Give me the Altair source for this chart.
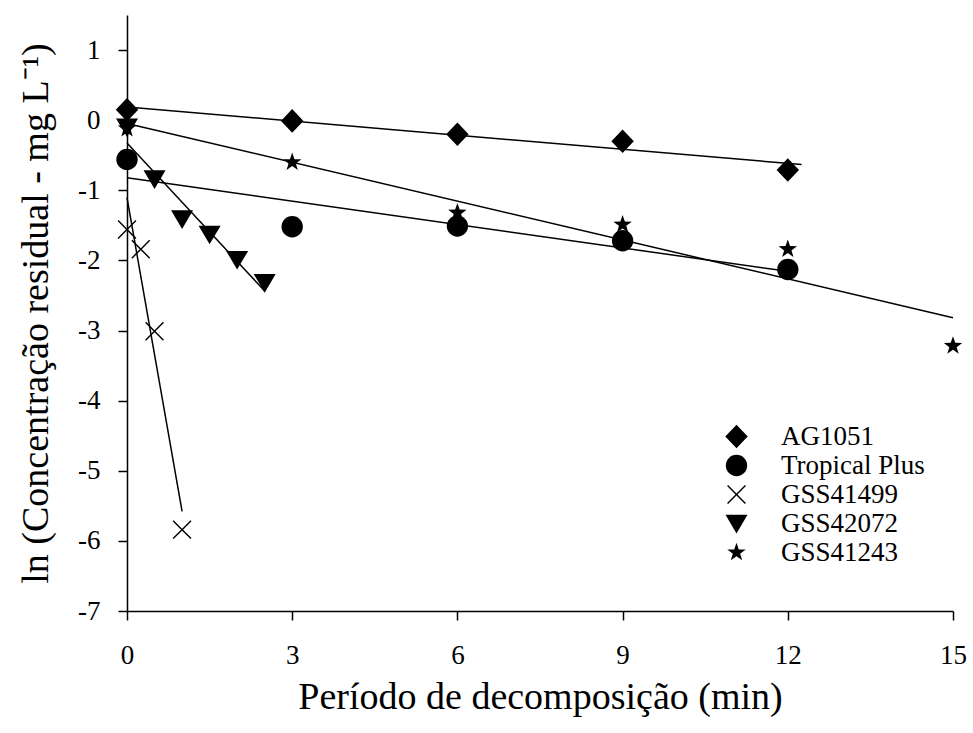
import math
import numpy as np
import pandas as pd
import altair as alt

# ---- data ----
series = ["AG1051", "Tropical Plus", "GSS41499", "GSS42072", "GSS41243"]

t_ag1051 = [0, 3, 6, 9, 12]
v_ag1051 = [0.15, -0.01, -0.20, -0.30, -0.71]

t_tropical = [0, 3, 6, 9, 12]
v_tropical = [-0.56, -1.52, -1.51, -1.72, -2.13]

t_gss41499 = [0, 0.25, 0.5, 1.0]
v_gss41499 = [-1.56, -1.84, -3.01, -5.84]

t_gss42072 = [0, 0.5, 1.0, 1.5, 2.0, 2.5]
v_gss42072 = [-0.10, -0.84, -1.41, -1.63, -1.99, -2.32]

t_gss41243 = [0, 3, 6, 9, 12, 15]
v_gss41243 = [-0.12, -0.60, -1.32, -1.49, -1.84, -3.22]

# extent of each fitted line (x start, x end)
fit_start = [0, 0, 0, 0, 0]
fit_end = [12.25, 12, 1.0, 2.5, 15]

x_ticks = [0, 3, 6, 9, 12, 15]
y_ticks = [-7, -6, -5, -4, -3, -2, -1, 0, 1]

# ---- tables ----
all_t = [t_ag1051, t_tropical, t_gss41499, t_gss42072, t_gss41243]
all_v = [v_ag1051, v_tropical, v_gss41499, v_gss42072, v_gss41243]

rows = []
line_rows = []
for name, ts, vs, xs, xe in zip(series, all_t, all_v, fit_start, fit_end):
    for t, v in zip(ts, vs):
        rows.append({"t": t, "v": v, "serie": name})
    b, a = np.polyfit(ts, vs, 1)
    for x in (xs, xe):
        line_rows.append({"t": x, "v": a + b * x, "serie": name})
pts = pd.DataFrame(rows)
lines = pd.DataFrame(line_rows)

# ---- marker shapes (normalized [-1,1] paths, all filled) ----
def poly(points):
    return "M" + "L".join(f"{x:.3f},{y:.3f}" for x, y in points) + "Z"

def star(R, r):
    p = []
    for k in range(10):
        ang = -math.pi / 2 + k * math.pi / 5
        rad = R if k % 2 == 0 else r
        p.append((rad * math.cos(ang), rad * math.sin(ang)))
    return poly(p)

def xcross(L, w):
    plus = [(w, L), (w, w), (L, w), (L, -w), (w, -w), (w, -L),
            (-w, -L), (-w, -w), (-L, -w), (-L, w), (-w, w), (-w, L)]
    c = s = math.sqrt(0.5)
    return poly([(x * c - y * s, x * s + y * c) for x, y in plus])

cr = 0.97
shapes = [
    "M-1.02,0L0,-1.07L1.02,0L0,1.07Z",
    f"M{cr},0A{cr},{cr},0,1,1,-{cr},0A{cr},{cr},0,1,1,{cr},0Z",
    xcross(1.15, 0.065),
    "M-1,-0.8L1,-0.8L0,0.9Z",
    star(0.88, 0.35),
]

FONT = "Liberation Serif"
label_expr = "'' + datum.value"

xscale = alt.Scale(domain=[0, 15], nice=False, zero=False)
yscale = alt.Scale(domain=[-7, 1.5], nice=False, zero=False)

xaxis = alt.Axis(values=x_ticks, title="Período de decomposição (min)", grid=False,
                 labelExpr=label_expr, labelFlush=False, labelFont=FONT,
                 labelFontSize=27, labelPadding=22, titlePadding=10)
yaxis = alt.Axis(values=y_ticks, title="ln (Concentração residual - mg L⁻¹)", grid=False,
                 labelExpr=label_expr, labelFlush=False, labelFont=FONT,
                 labelFontSize=27, labelPadding=18, titlePadding=22)

line_layer = alt.Chart(lines).mark_line(color="black", strokeWidth=1.5).encode(
    x=alt.X("t:Q", scale=xscale, axis=xaxis),
    y=alt.Y("v:Q", scale=yscale, axis=yaxis),
    detail="serie:N",
)

point_layer = alt.Chart(pts).mark_point(
    filled=True, fill="black", opacity=1, size=484
).encode(
    x=alt.X("t:Q", scale=xscale, axis=xaxis),
    y=alt.Y("v:Q", scale=yscale, axis=yaxis),
    shape=alt.Shape(
        "serie:N",
        scale=alt.Scale(domain=series, range=shapes),
        legend=alt.Legend(
            title=None, orient="none", legendX=596, legendY=408,
            labelFont=FONT, labelFontSize=27, labelColor="black",
            symbolSize=484, symbolFillColor="black", symbolOpacity=1,
            symbolStrokeWidth=0,
            labelOffset=31, rowPadding=1, padding=0,
        ),
    ),
)

chart = alt.layer(line_layer, point_layer).properties(
    width=826, height=596,
    autosize=alt.AutoSizeParams(type="none"),
    padding={"left": 127, "top": 15, "right": 20, "bottom": 122},
    background="white",
).configure_view(stroke=None).configure_axis(
    domainColor="black", domainWidth=1.5, tickColor="black", tickWidth=1.5, tickSize=9,
    labelFont=FONT, labelFontSize=27, labelColor="black",
    titleFont=FONT, titleFontSize=38, titleFontWeight="normal", titleColor="black",
).configure_legend(labelFont=FONT)

chart.save("out.html", embed_options={"renderer": "svg", "actions": False})
